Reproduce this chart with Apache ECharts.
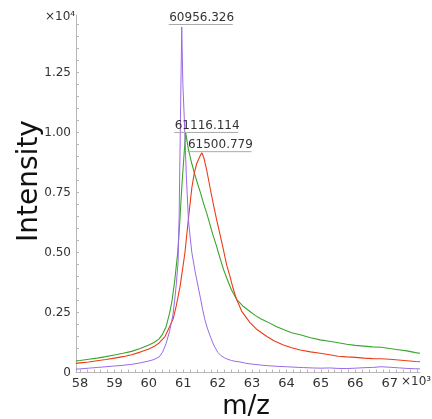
<!DOCTYPE html>
<html>
<head>
<meta charset="utf-8">
<script src="https://cdn.jsdelivr.net/npm/echarts@6/dist/echarts.min.js"></script>
<style>html,body{margin:0;padding:0;background:#fff;}#c{width:432px;height:419px;}</style>
</head>
<body>
<div id="c"></div>
<script>
// m/z (Da) and intensity (counts)
var purpleSpec = [[57880,140],[58000,150],[58250,180],[58500,210],[58750,240],[59000,270],[59250,300],[59500,340],[59750,400],[60000,480],[60150,540],[60300,650],[60400,850],[60500,1200],[60600,1700],[60700,2400],[60750,3000],[60800,3700],[60850,4600],[60880,6400],[60920,10600],[60956,14400],[60990,12000],[61030,10600],[61090,8200],[61150,6400],[61200,5650],[61250,5000],[61340,4250],[61430,3600],[61500,3100],[61560,2650],[61630,2200],[61700,1850],[61800,1450],[61900,1100],[62010,830],[62100,700],[62200,610],[62300,550],[62400,500],[62500,470],[62650,440],[62800,390],[63000,350],[63250,310],[63500,280],[63750,255],[64000,240],[64250,220],[64500,205],[64750,190],[65000,180],[65250,190],[65500,170],[65750,165],[66000,180],[66250,200],[66500,210],[66750,240],[67000,220],[67250,195],[67500,170],[67750,155],[67880,150]];
var greenSpec = [[57880,480],[58000,500],[58250,550],[58500,600],[58750,660],[59000,730],[59250,800],[59500,880],[59750,1000],[60000,1150],[60150,1250],[60300,1400],[60400,1600],[60500,1900],[60600,2450],[60670,2950],[60750,3800],[60840,5000],[60900,6300],[60960,7770],[61020,9000],[61070,10000],[61116,9600],[61150,9300],[61250,8700],[61350,8180],[61440,7770],[61500,7500],[61600,7000],[61680,6650],[61730,6400],[61850,5800],[61970,5260],[62020,5000],[62170,4300],[62260,3950],[62400,3450],[62550,3050],[62750,2750],[62940,2540],[63100,2370],[63250,2240],[63430,2120],[63700,1920],[63910,1790],[64150,1660],[64400,1570],[64700,1450],[64980,1360],[65250,1300],[65500,1240],[65750,1180],[66000,1130],[66250,1100],[66500,1070],[66750,1050],[67000,1000],[67250,950],[67500,900],[67750,830],[67880,800]];
var redSpec = [[57880,380],[58000,400],[58250,440],[58500,490],[58750,540],[59000,600],[59250,660],[59500,740],[59750,850],[60000,980],[60150,1080],[60300,1230],[60470,1500],[60600,1900],[60710,2250],[60800,2800],[60910,3600],[60980,4300],[61050,5000],[61150,6400],[61250,7700],[61320,8300],[61390,8700],[61450,8900],[61500,9050],[61540,9160],[61600,8950],[61680,8450],[61780,7700],[61870,7050],[61970,6370],[62070,5750],[62170,5100],[62260,4500],[62360,4000],[62450,3500],[62550,3050],[62700,2550],[62940,2080],[63150,1780],[63430,1500],[63650,1310],[63910,1150],[64150,1030],[64400,940],[64700,860],[64980,800],[65250,740],[65500,680],[65750,650],[66000,630],[66250,600],[66500,580],[66750,570],[67000,550],[67250,520],[67500,490],[67750,460],[67880,450]];
var peakLabels = ['60956.326', '61116.114', '61500.779'];
var peakMz = [60956.326, 61116.114, 61500.779];
var peakInt = [14400, 9900, 9100];
var xTickLabels = [58000,59000,60000,61000,62000,63000,64000,65000,66000,67000];
var yTickLabels = [0,2500,5000,7500,10000,12500];

var xMinor = [], yMinor = [];
for (var i = 0; i < 50; i++) xMinor.push(58000 + i * 200);
for (var j = 0; j < 30; j++) yMinor.push(j * 500);

var FONT = 'DejaVu Sans';
var chart = echarts.init(document.getElementById('c'), null, {renderer: 'canvas'});
var annot = peakMz.map(function (m, k) { return [m, peakInt[k], peakLabels[k]]; });

chart.setOption({
  animation: false,
  backgroundColor: '#fff',
  grid: {left: 76, right: 12, top: 15, bottom: 46.5, containLabel: false},
  xAxis: {
    type: 'value', min: 57884, max: 67880,
    axisLine: {show: true, lineStyle: {color: '#b8b8b8', width: 1}},
    axisTick: {show: true, inside: true, length: 3, customValues: xMinor, lineStyle: {color: '#b8b8b8'}},
    axisLabel: {customValues: xTickLabels, formatter: function (v) { return String(Math.round(v / 1000)); },
      color: '#333', fontFamily: FONT, fontSize: 13, margin: 5},
    splitLine: {show: false}
  },
  yAxis: {
    type: 'value', min: 0, max: 14900,
    axisLine: {show: true, lineStyle: {color: '#b8b8b8', width: 1}},
    axisTick: {show: true, inside: true, length: 3, customValues: yMinor, lineStyle: {color: '#b8b8b8'}},
    axisLabel: {customValues: yTickLabels, formatter: function (v) { return v === 0 ? '0' : (v / 10000).toFixed(2); },
      color: '#333', fontFamily: FONT, fontSize: 12, margin: 5},
    splitLine: {show: false}
  },
  series: [
    {type: 'line', data: greenSpec, showSymbol: false, lineStyle: {color: '#3aa52c', width: 1.1}, itemStyle: {color: '#3aa52c'}, z: 2},
    {type: 'line', data: redSpec, showSymbol: false, lineStyle: {color: '#ea3d17', width: 1.1}, itemStyle: {color: '#ea3d17'}, z: 3},
    {type: 'line', data: purpleSpec, showSymbol: false, lineStyle: {color: '#9a6ae8', width: 1}, itemStyle: {color: '#9a6ae8'}, z: 4},
    {type: 'custom', data: annot, z: 10, clip: false,
      renderItem: function (params, api) {
        var p = api.coord([api.value(0), api.value(1)]);
        var y = p[1] - 2.5;
        return {type: 'group', children: [
          {type: 'line', shape: {x1: p[0] - 13, y1: y, x2: p[0] + 51, y2: y}, style: {stroke: '#aaaaaa', lineWidth: 1}},
          {type: 'text', style: {x: p[0] - 12.5, y: y - 0.5, text: peakLabels[params.dataIndex], fill: '#333',
            font: '12px "DejaVu Sans"', textAlign: 'left', textVerticalAlign: 'bottom'}}
        ]};
      }
    }
  ],
  graphic: [
    {type: 'text', left: 45, top: 11, style: {text: '×10⁴', fill: '#333', font: '12px "DejaVu Sans"'}},
    {type: 'text', left: 401, top: 376, style: {text: '×10³', fill: '#333', font: '12px "DejaVu Sans"'}},
    {type: 'text', x: 30, y: 181, rotation: Math.PI / 2, style: {text: 'Intensity', fill: '#111', font: '28px "DejaVu Sans"', textAlign: 'center', textVerticalAlign: 'middle'}},
    {type: 'text', x: 246, y: 407, style: {text: 'm/z', fill: '#111', font: '26px "DejaVu Sans"', textAlign: 'center', textVerticalAlign: 'middle'}}
  ]
});
</script>
</body>
</html>
